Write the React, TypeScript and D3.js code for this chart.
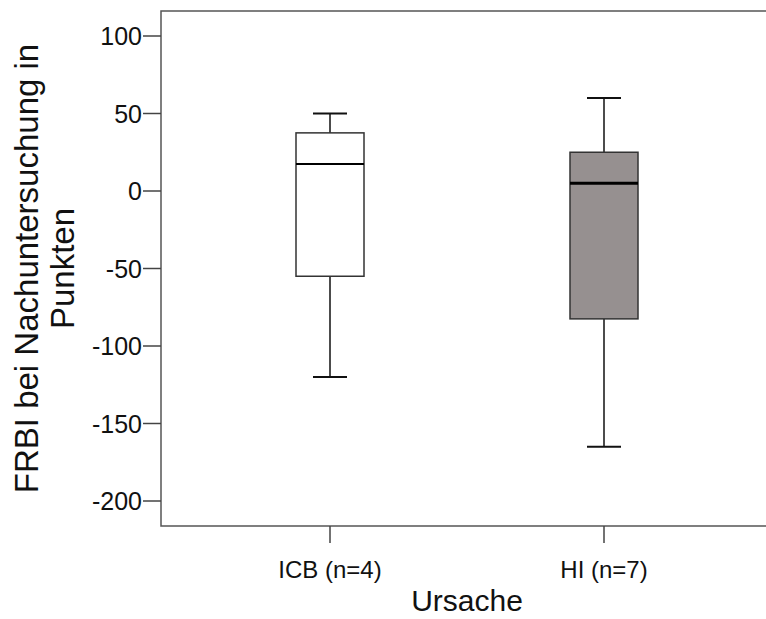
import React from 'react';
import * as d3 from 'd3';

const categories = ['ICB (n=4)', 'HI (n=7)'];
const whiskerHigh = [50, 60];
const q3 = [37.5, 25];
const medians = [17.5, 5];
const q1 = [-55, -82.5];
const whiskerLow = [-120, -165];
const boxFills = ['#ffffff', '#969090'];
const yTicks = [100, 50, 0, -50, -100, -150, -200];

const width = 766;
const height = 619;
const plot = { left: 161, right: 773, top: 11, bottom: 526 };
const font = '"Liberation Sans", Arial, sans-serif';

const App = () => {
  const x = d3.scalePoint<string>()
    .domain(categories)
    .range([plot.left + 169, plot.right - 169]);

  const y = d3.scaleLinear()
    .domain([-200, 100])
    .range([501, 36]);

  const boxW = 68;
  const capW = 34;
  const midY = (plot.top + plot.bottom) / 2;
  const midX = (plot.left + plot.right) / 2;

  return (
    <svg width={width} height={height}
      style={{ position: 'absolute', left: 0, top: 0, background: '#fff' }}>
      {/* frame */}
      <rect x={plot.left} y={plot.top} width={plot.right - plot.left} height={plot.bottom - plot.top}
        fill="none" stroke="#555" strokeWidth={1.5} />

      {/* y axis */}
      {yTicks.map((t) => (
        <g key={t}>
          <line x1={plot.left - 18} x2={plot.left} y1={y(t)} y2={y(t)} stroke="#444" strokeWidth={1.5} />
          <text x={plot.left - 19} y={y(t)} dy="0.36em" textAnchor="end"
            fontFamily={font} fontSize={25} fill="#111">{t}</text>
        </g>
      ))}

      {/* x axis */}
      {categories.map((c) => (
        <g key={c}>
          <line x1={x(c)} x2={x(c)} y1={plot.bottom} y2={plot.bottom + 17} stroke="#444" strokeWidth={1.5} />
          <text x={x(c)} y={plot.bottom + 52} textAnchor="middle"
            fontFamily={font} fontSize={24} fill="#111">{c}</text>
        </g>
      ))}

      {/* boxes */}
      {categories.map((c, i) => {
        const cx = x(c) as number;
        return (
          <g key={c}>
            <line x1={cx} x2={cx} y1={y(whiskerHigh[i])} y2={y(q3[i])} stroke="#111" strokeWidth={1.5} />
            <line x1={cx} x2={cx} y1={y(q1[i])} y2={y(whiskerLow[i])} stroke="#111" strokeWidth={1.5} />
            <line x1={cx - capW / 2} x2={cx + capW / 2} y1={y(whiskerHigh[i])} y2={y(whiskerHigh[i])}
              stroke="#111" strokeWidth={2} />
            <line x1={cx - capW / 2} x2={cx + capW / 2} y1={y(whiskerLow[i])} y2={y(whiskerLow[i])}
              stroke="#111" strokeWidth={2} />
            <rect x={cx - boxW / 2} y={y(q3[i])} width={boxW} height={y(q1[i]) - y(q3[i])}
              fill={boxFills[i]} stroke="#333" strokeWidth={1.5} />
            <line x1={cx - boxW / 2} x2={cx + boxW / 2} y1={y(medians[i])} y2={y(medians[i])}
              stroke="#000" strokeWidth={i === 0 ? 2 : 3} />
          </g>
        );
      })}

      {/* axis titles */}
      <text x={midX} y={611} textAnchor="middle"
        fontFamily={font} fontSize={30} fill="#111">Ursache</text>
      <text transform={`translate(38,${midY}) rotate(-90)`} textAnchor="middle"
        fontFamily={font} fontSize={33} fill="#111">FRBI bei Nachuntersuchung in</text>
      <text transform={`translate(74,${midY}) rotate(-90)`} textAnchor="middle"
        fontFamily={font} fontSize={33} fill="#111">Punkten</text>
    </svg>
  );
};

export default App;
